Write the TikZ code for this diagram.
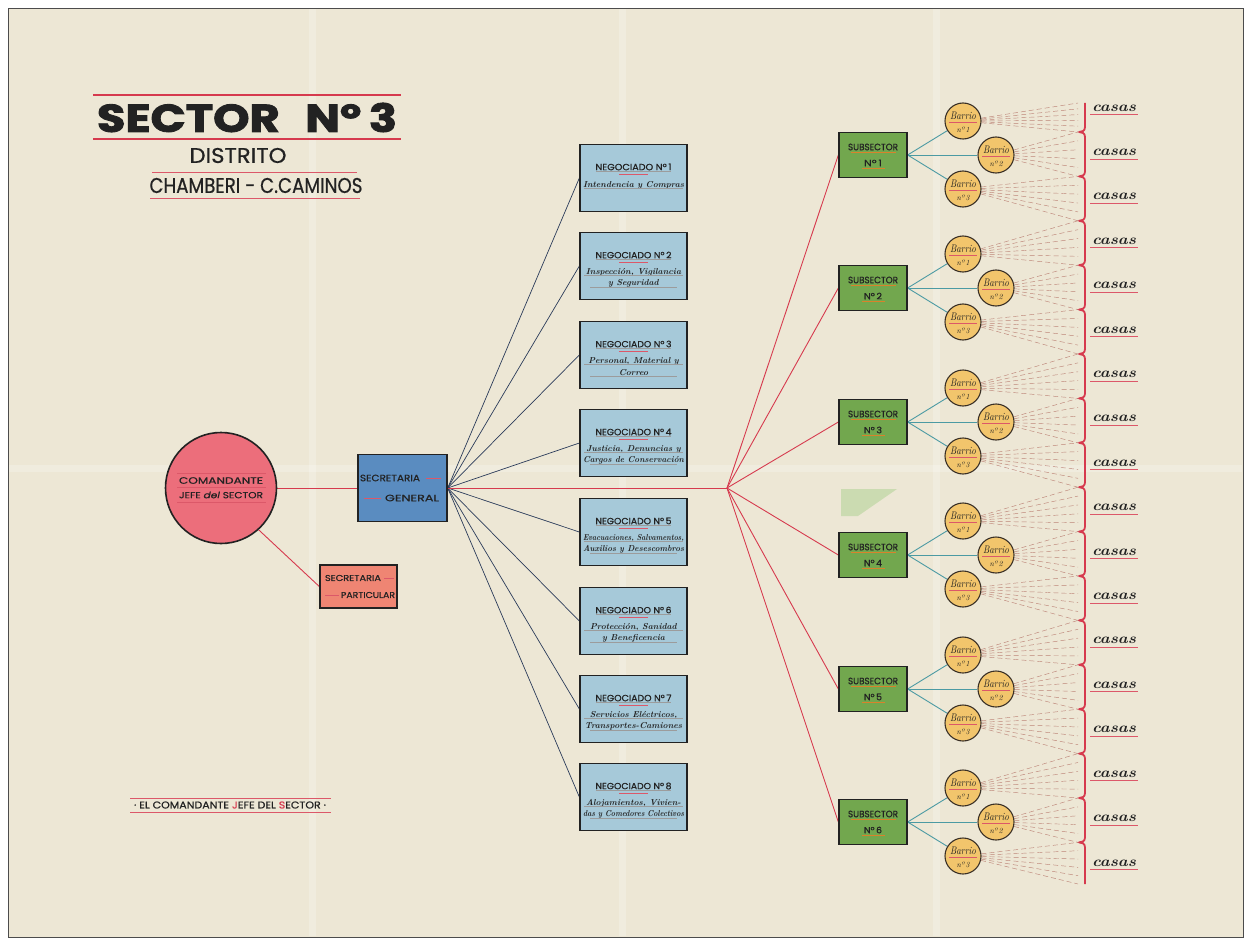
\documentclass[tikz,border=0pt]{standalone}
\usepackage{fontspec}
\usepackage{graphicx}
\newfontfamily\decofont{Poppins}[FakeBold=0.7]
\newfontfamily\heavyfont{Poppins}[FakeBold=2.2]
\usetikzlibrary{calc}

\definecolor{paper}{HTML}{EDE7D5}
\definecolor{inkred}{HTML}{D63A4E}
\definecolor{navy}{HTML}{2B3B5A}
\definecolor{tealink}{HTML}{4B9AA3}
\definecolor{chiefred}{HTML}{EC6E7B}
\definecolor{secblue}{HTML}{5A8CC0}
\definecolor{secsalmon}{HTML}{EF8573}
\definecolor{negblue}{HTML}{A6C9D9}
\definecolor{subgreen}{HTML}{72A74E}
\definecolor{barrioyel}{HTML}{F2C56C}
\definecolor{dashbrown}{HTML}{A85A50}
\definecolor{ink}{HTML}{222222}
\definecolor{ochre}{HTML}{D9822B}
\definecolor{stain}{HTML}{B5D49A}

% caps lettering squeezed into a fixed box
\newcommand\capsbox[3]{\resizebox{#1}{#2}{\decofont #3}}
% handwritten-style line, narrowed when it would overflow its box
\newsavebox\linebox
\newcommand\scriptline[1]{\sbox\linebox{\fontsize{8.6}{9}\selectfont\itshape\bfseries #1}%
  \ifdim\wd\linebox>101pt \resizebox{101pt}{\height}{\usebox\linebox}\else\usebox\linebox\fi}

\pgfdeclarelayer{sheet}
\pgfdeclarelayer{back}
\pgfsetlayers{sheet,back,main}

\tikzset{
  pagefill/.style={fill=paper, draw=black!70, line width=0.8pt},
  chief/.style={circle, draw=ink, line width=1.6pt, fill=chiefred, minimum size=111pt, inner sep=0pt},
  secbox/.style={draw=ink, line width=1.4pt, fill=secblue, minimum width=89pt, minimum height=67pt, inner sep=0pt},
  partbox/.style={draw=ink, line width=1.4pt, fill=secsalmon, minimum width=77pt, minimum height=43pt, inner sep=0pt},
  negbox/.style={draw=ink, line width=1.3pt, fill=negblue, minimum width=107pt, minimum height=67pt, inner sep=0pt},
  subbox/.style={draw=ink, line width=1.3pt, fill=subgreen, minimum width=68pt, minimum height=45pt, inner sep=0pt},
  barrio/.style={circle, draw=ink!85!brown, line width=1.1pt, fill=barrioyel, minimum size=36pt, inner sep=0pt},
  redlink/.style={draw=inkred, line width=0.9pt},
  navylink/.style={draw=navy, line width=0.7pt},
  teallink/.style={draw=tealink, line width=0.9pt},
  fanline/.style={draw=dashbrown, line width=0.45pt, dash pattern=on 5pt off 3pt, opacity=0.7},
  titlerule/.style={draw=inkred, line width=1.6pt},
  thinrule/.style={draw=inkred!85, line width=0.6pt},
  ochrerule/.style={draw=ochre, line width=0.7pt},
  guideline/.style={draw=ink!45, line width=0.3pt},
  bar/.style={draw=inkred, line width=1.8pt, line join=round},
  txt/.style={inner sep=0pt, text=ink},
  fold/.style={draw=white, line width=7pt, opacity=0.22},
}

\begin{document}
\begin{tikzpicture}[x=1pt, y=-1pt]
\useasboundingbox (0,0) rectangle (1250,944);
\begin{pgfonlayer}{sheet}
  \fill[white] (0,0) rectangle (1250,944);
  \path[pagefill] (8,8) rectangle (1243,937);
  % paper folds
  \draw[fold] (312,9) -- (312,936);
  \draw[fold] (622,9) -- (622,936);
  \draw[fold] (936,9) -- (936,936);
  \draw[fold] (9,468) -- (1242,468);
  % paint stain
  \fill[stain, opacity=0.6] (841,489) -- (897,489) -- (858,516) -- (841,516) -- cycle;
\end{pgfonlayer}

% ---------- title block ----------
\draw[titlerule] (93,95) -- (401,95);
\draw[titlerule] (93,139) -- (401,139);
\node[txt] (title) at (247,117.5) {\resizebox{300pt}{29pt}{\heavyfont\bfseries SECTOR\hspace{0.55em}Nº\,3}};
\node[txt] (distrito) at (238,155.5) {\capsbox{97pt}{15pt}{DISTRITO}};
\draw[thinrule] (152,172) -- (357,172);
\node[txt] (barrios) at (256,185.5) {\capsbox{213pt}{15pt}{CHAMBERI - C.CAMINOS}};
\draw[thinrule] (150,198) -- (360,198);

% ---------- command ----------
\node[chief] (chief) at (221,488) {};
\draw[thinrule] (177,473) -- (266,473);
\draw[thinrule] (177,487.5) -- (266,487.5);
\draw[thinrule] (177,502) -- (266,502);
\node[txt] (chiefa) at (221,480.5) {\capsbox{84pt}{6.5pt}{COMANDANTE}};
\node[txt] (chiefb) at (221,495) {\capsbox{84pt}{6.5pt}{JEFE {\itshape del} SECTOR}};

\node[secbox] (sg) at (402.5,488) {};
\node[txt] (sga) at (390,478) {\capsbox{60pt}{6.5pt}{SECRETARIA}};
\draw[thinrule] (426,478) -- (441,478);
\draw[thinrule] (364,498) -- (381,498);
\node[txt] (sgb) at (412,498) {\capsbox{54pt}{6.5pt}{GENERAL}};

\node[partbox] (sp) at (358.5,586.5) {};
\node[txt] (spa) at (353,578) {\capsbox{56pt}{6pt}{SECRETARIA}};
\draw[thinrule] (384,578) -- (394,578);
\draw[thinrule] (325,595) -- (339,595);
\node[txt] (spb) at (368,595) {\capsbox{54pt}{6pt}{PARTICULAR}};

\begin{pgfonlayer}{back}
  \draw[redlink] (chief.east) -- (sg.west);
  \draw[redlink] (chief.-48) -- (sp.west);
\end{pgfonlayer}

% ---------- negociados ----------
\coordinate (hub) at (727,488);
\foreach \i/\cy/\nl/\la/\lb in {
  1/178/1/{Intendencia y Compras}/{},
  2/266/2/{Inspección, Vigilancia}/{y Seguridad},
  3/355/2/{Personal, Material y}/{Correo},
  4/443/2/{Justicia, Denuncias y}/{Cargos de Conservación},
  5/532/2/{Evacuaciones, Salvamentos,}/{Auxilios y Desescombros},
  6/621/2/{Protección, Sanidad}/{y Beneficencia},
  7/709/2/{Servicios Eléctricos,}/{Transportes-Camiones},
  8/797/2/{Alojamientos, Vivien-}/{das y Comedores Colectivos}}{
  \node[negbox] (neg\i) at (633.5,\cy) {};
  \node[txt] (neghead\i) at (633.5,\cy-11) {\capsbox{76pt}{6.5pt}{NEGOCIADO Nº\,\i}};
  \draw[guideline] (596,\cy-6.8) -- (671,\cy-6.8);
  \draw[thinrule] (619,\cy-4) -- (648,\cy-4);
  \ifnum\nl=1
    \node[txt] (negtxt\i) at (633.5,\cy+7) {\scriptline{\la}};
    \draw[guideline] (584,\cy+10.5) -- (683,\cy+10.5);
  \else
    \node[txt] (negtxt\i) at (633.5,\cy+6) {\scriptline{\la}};
    \draw[guideline] (584,\cy+9.5) -- (683,\cy+9.5);
    \node[txt] (negtxtb\i) at (633.5,\cy+17.5) {\scriptline{\lb}};
    \draw[guideline] (590,\cy+21) -- (677,\cy+21);
  \fi
  \begin{pgfonlayer}{back}
    \draw[navylink] (sg.east) -- (neg\i.west);
  \end{pgfonlayer}
}
\begin{pgfonlayer}{back}
  \draw[redlink] (sg.east) -- (hub);
\end{pgfonlayer}

% ---------- subsectores and barrios ----------
\foreach \s in {1,...,6}{
  \pgfmathsetmacro\ssy{round(155+133.4*(\s-1))}
  \node[subbox] (ss\s) at (873,\ssy) {};
  \node[txt] (sshead\s) at (873,\ssy-8) {\capsbox{50pt}{6.5pt}{SUBSECTOR}};
  \draw[ochrerule] (851,\ssy-3) -- (896,\ssy-3);
  \node[txt] (ssnum\s) at (873,\ssy+8) {\capsbox{18pt}{6.5pt}{Nº\,\s}};
  \draw[ochrerule] (862,\ssy+13) -- (885,\ssy+13);
  \begin{pgfonlayer}{back}
    \draw[redlink] (hub) -- (ss\s.west);
  \end{pgfonlayer}
  \foreach \j/\bx/\dy in {1/963/-34, 2/996/0, 3/963/34}{
    \pgfmathtruncatemacro\k{3*(\s-1)+\j-1}
    \node[barrio] (b-\k) at (\bx,\ssy+\dy) {};
    \node[txt] (bname\k) at (\bx,\ssy+\dy-5) {\resizebox{26pt}{7.5pt}{\itshape Barrio}};
    \draw[thinrule, line width=0.9pt] (\bx-14,\ssy+\dy+1) -- (\bx+14,\ssy+\dy+1);
    \node[txt] (bnum\k) at (\bx,\ssy+\dy+8.5) {\resizebox{13pt}{5.5pt}{\itshape nº\,\j}};
    \begin{pgfonlayer}{back}
      \draw[teallink] (ss\s.east) -- (b-\k);
    \end{pgfonlayer}
  }
}

% ---------- casas ----------
\draw[bar] (1085,103)
  foreach \k in {0,...,16} {
    -- (1085,{127+44.4*\k})
    .. controls (1085,{131+44.4*\k}) and (1082,{132+44.4*\k}) .. (1079,{132+44.4*\k})
    .. controls (1082,{132+44.4*\k}) and (1085,{133+44.4*\k}) .. (1085,{137+44.4*\k})
  } -- (1085,884);

\foreach \k in {0,...,17}{
  \pgfmathsetmacro\cyy{108+44.4*\k}
  \node[txt] (casa\k) at (1114,\cyy) {\resizebox{44pt}{6.5pt}{\itshape\bfseries casas}};
  \draw[thinrule] (1090,\cyy+6.5) -- (1138,\cyy+6.5);
  \pgfmathsetmacro\ftop{\k==0 ? 103 : 132+44.4*(\k-1)}
  \pgfmathsetmacro\fbot{\k==17 ? 884 : 132+44.4*\k}
  \begin{pgfonlayer}{back}
  \foreach \m in {0,...,5}{
    \coordinate (fan-\k-\m) at (1078,{\ftop+(\fbot-\ftop)*\m/5});
    \draw[fanline] (b-\k) -- (fan-\k-\m);
  }
  \end{pgfonlayer}
}

% ---------- signature ----------
\draw[thinrule] (130,798) -- (331,798);
\draw[thinrule] (130,812) -- (331,812);
\node[txt] (firma) at (230,805) {\capsbox{192pt}{7pt}{· EL COMANDANTE \textcolor{inkred}{J}EFE DEL \textcolor{inkred}{S}ECTOR ·}};

\end{tikzpicture}
\end{document}
